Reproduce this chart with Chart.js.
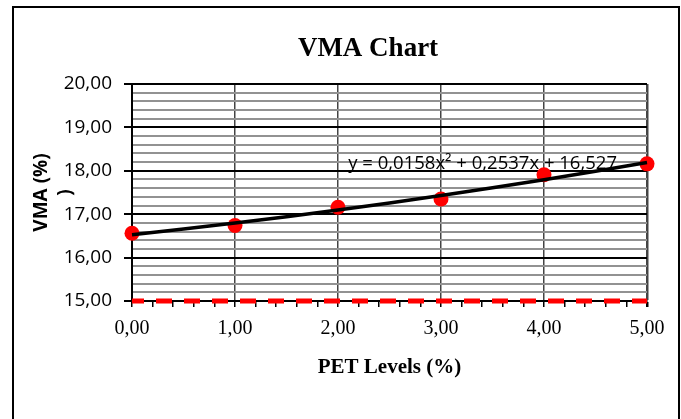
<!DOCTYPE html>
<html>
<head>
<meta charset="utf-8">
<title>VMA Chart</title>
<script src="https://cdn.jsdelivr.net/npm/chart.js@4"></script>
<style>
  html, body { margin: 0; padding: 0; background: #fff; }
  #wrap { width: 681px; height: 419px; }
</style>
</head>
<body>
<div id="wrap"><canvas id="vmaChart" width="681" height="419"></canvas></div>
<script>
// PET content (%) and measured VMA (%)
const pctLevels = [0, 1, 2, 3, 4, 5];
const vmaValues = [16.56, 16.74, 17.16, 17.35, 17.91, 18.16];

// polynomial trendline y = c0 + c1*x + c2*x^2
const trendCoef = [16.527, 0.2537, 0.0158];
const trendLabel = 'y = 0,0158x\u00B2 + 0,2537x + 16,527';

// limit line along the bottom of the plot
const limitX = [0, 5];
const limitY = [15, 15];

const yMin = 15, yMax = 20;
const xMin = 0, xMax = 5;

const isWhole = v => Math.abs(v - Math.round(v)) < 1e-6;
const comma = v => v.toFixed(2).replace('.', ',');

const trendPoints = pctLevels.map(x => ({ x: x, y: trendCoef[0] + trendCoef[1] * x + trendCoef[2] * x * x }));
const vmaPoints = pctLevels.map((x, i) => ({ x: x, y: vmaValues[i] }));
const limitPoints = limitX.map((x, i) => ({ x: x, y: limitY[i] }));

// outer frame, heading and trendline equation
const decorations = {
    id: 'decorations',
    afterDraw(chart) {
        const ctx = chart.ctx;
        const xs = chart.scales.x;
        const ys = chart.scales.y;
        ctx.save();

        ctx.strokeStyle = '#000';
        ctx.lineWidth = 2;
        ctx.beginPath();
        ctx.moveTo(13, 430);
        ctx.lineTo(13, 7);
        ctx.lineTo(679, 7);
        ctx.lineTo(679, 430);
        ctx.stroke();

        ctx.fillStyle = '#000';
        ctx.font = 'bold 27px "Liberation Serif"';
        ctx.textAlign = 'center';
        ctx.textBaseline = 'alphabetic';
        ctx.fillText('VMA Chart', 368, 56);

        ctx.font = '18.5px "Open Sans"';
        ctx.textAlign = 'left';
        ctx.fillText(trendLabel, xs.getPixelForValue(2.1), ys.getPixelForValue(18.04));
        ctx.restore();
    }
};

const ctx = document.getElementById('vmaChart').getContext('2d');
new Chart(ctx, {
    type: 'scatter',
    data: {
        datasets: [
            {
                label: 'Trendline',
                data: trendPoints,
                showLine: true,
                borderColor: '#000',
                borderWidth: 3.5,
                pointRadius: 0,
                tension: 0.4,
                clip: false,
            },
            {
                label: 'VMA',
                data: vmaPoints,
                showLine: false,
                backgroundColor: '#ff0000',
                borderColor: '#ff0000',
                pointRadius: 7.5,
                pointBorderWidth: 0,
                clip: false,
            },
            {
                label: 'Limit',
                data: limitPoints,
                showLine: true,
                borderColor: '#ff0000',
                borderWidth: 5,
                borderDash: [16, 12],
                borderDashOffset: 4,
                pointRadius: 0,
                clip: false,
            },
        ],
    },
    options: {
        responsive: false,
        animation: false,
        events: [],
        layout: {
            padding: { left: 14, top: 84, right: 34, bottom: 18 },
        },
        plugins: {
            legend: { display: false },
            tooltip: { enabled: false },
        },
        scales: {
            x: {
                type: 'linear',
                min: xMin,
                max: xMax,
                afterFit(scale) { scale.height = 100; },
                border: { color: '#000', width: 2 },
                grid: {
                    color: c => isWhole(c.tick.value) ? '#444' : 'rgba(0,0,0,0)',
                    lineWidth: c => c.tick.value === xMax ? 2.5 : 1.5,
                    tickColor: '#000',
                    tickLength: 6,
                },
                ticks: {
                    stepSize: 0.2,
                    autoSkip: false,
                    maxRotation: 0,
                    padding: 10,
                    color: '#000',
                    font: { family: '"Liberation Serif"', size: 20 },
                    callback: v => isWhole(v) ? comma(v) : '',
                },
                title: {
                    display: true,
                    text: 'PET Levels (%)',
                    color: '#000',
                    font: { family: '"Liberation Serif"', size: 21, weight: 'bold' },
                    padding: { top: 0, bottom: 21 },
                },
            },
            y: {
                min: yMin,
                max: yMax,
                afterFit(scale) { scale.width = 118; },
                border: { color: '#000', width: 2 },
                grid: {
                    color: c => isWhole(c.tick.value) ? '#000' : '#929292',
                    lineWidth: 2,
                    tickColor: c => isWhole(c.tick.value) ? '#000' : 'rgba(0,0,0,0)',
                    tickLength: 8,
                },
                ticks: {
                    stepSize: 0.2,
                    autoSkip: false,
                    padding: 12,
                    color: '#000',
                    font: { family: '"Open Sans"', size: 19 },
                    callback: v => isWhole(v) ? comma(v) : '',
                },
                title: {
                    display: true,
                    text: ['VMA (%)', ')'],
                    color: '#000',
                    font: { family: '"Open Sans"', size: 19, weight: 'bold', lineHeight: 1.3 },
                    padding: { top: 15, bottom: 0 },
                },
            },
        },
    },
    plugins: [decorations],
});
</script>
</body>
</html>
